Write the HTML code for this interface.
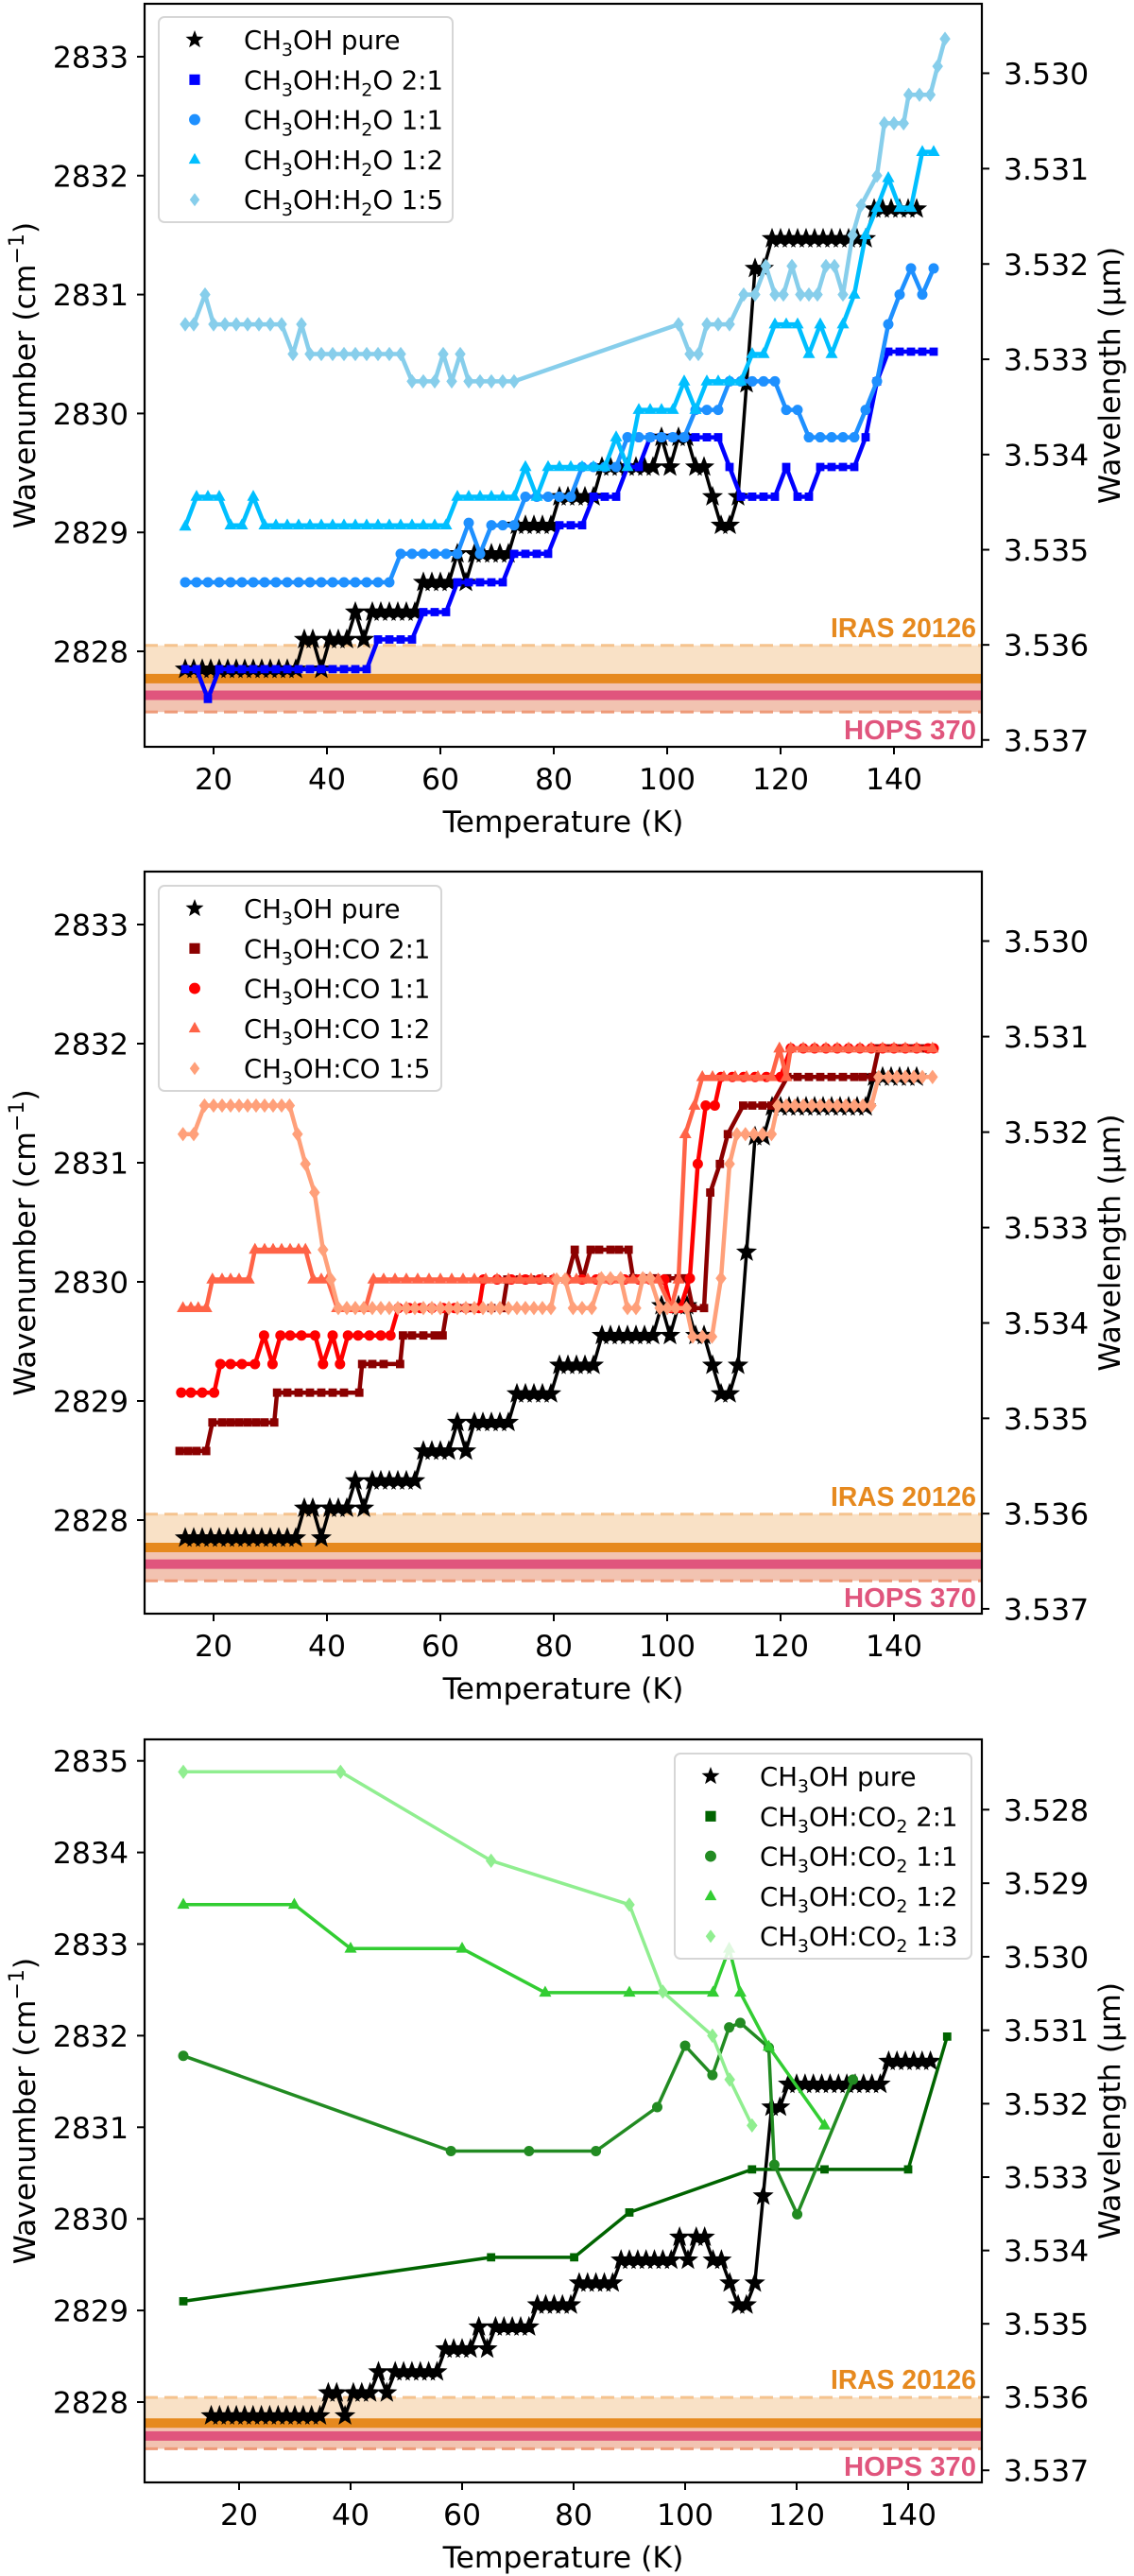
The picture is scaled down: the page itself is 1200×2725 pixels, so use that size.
<!DOCTYPE html>
<html><head><meta charset="utf-8">
<style>
html,body{margin:0;padding:0;background:#fff;}
svg{display:block;font-family:"DejaVu Sans","Liberation Sans",sans-serif;}
</style></head>
<body>
<svg id="fig" width="1200" height="2725" viewBox="0 0 1200 2725" xmlns="http://www.w3.org/2000/svg"></svg>
<script>
// ---------- DATA ----------
const pureT = [15,16.5,18,19.5,21,22.5,24,25.5,27,28.5,30,31.5,33,34.5,36,37.5,39,40.5,42,43.5,45,46.5,48,49.5,51,52.5,54,55.5,57,58.5,60,61.5,63,64.5,66,67.5,69,70.5,72,73.5,75,76.5,78,79.5,81,82.5,84,85.5,87,88.5,90,91.5,93,94.5,96,97.5,99,100.5,102,103.5,105,106.5,108,109.5,111,112.5,114,115.5,117,118.5,120,121.5,123,124.5,126,127.5,129,130.5,132,133.5,135,136.5,138,139.5,141,142.5,144];
const pureW = [2827.85,2827.85,2827.85,2827.85,2827.85,2827.85,2827.85,2827.85,2827.85,2827.85,2827.85,2827.85,2827.85,2827.85,2828.1,2828.1,2827.85,2828.1,2828.1,2828.1,2828.33,2828.1,2828.33,2828.33,2828.33,2828.33,2828.33,2828.33,2828.58,2828.58,2828.58,2828.58,2828.82,2828.58,2828.82,2828.82,2828.82,2828.82,2828.82,2829.06,2829.06,2829.06,2829.06,2829.06,2829.3,2829.3,2829.3,2829.3,2829.3,2829.55,2829.55,2829.55,2829.55,2829.55,2829.55,2829.55,2829.8,2829.55,2829.8,2829.8,2829.55,2829.55,2829.3,2829.06,2829.06,2829.3,2830.25,2831.22,2831.22,2831.47,2831.47,2831.47,2831.47,2831.47,2831.47,2831.47,2831.47,2831.47,2831.47,2831.47,2831.47,2831.72,2831.72,2831.72,2831.72,2831.72,2831.72];

const oddT = [15,17,19,21,23,25,27,29,31,33,35,37,39,41,43,45,47,49,51,53,55,57,59,61,63,65,67,69,71,73,75,77,79,81,83,85,87,89,91,93,95,97,99,101,103,105,107,109,111,113,115,117,119,121,123,125,127,129,131,133,135,137,139,141,143,145,147];
const h2o21W = [2827.85,2827.85,2827.6,2827.85,2827.85,2827.85,2827.85,2827.85,2827.85,2827.85,2827.85,2827.85,2827.85,2827.85,2827.85,2827.85,2827.85,2828.1,2828.1,2828.1,2828.1,2828.33,2828.33,2828.33,2828.58,2828.58,2828.58,2828.58,2828.58,2828.82,2828.82,2828.82,2828.82,2829.06,2829.06,2829.06,2829.3,2829.3,2829.3,2829.55,2829.55,2829.8,2829.8,2829.8,2829.8,2829.8,2829.8,2829.8,2829.55,2829.3,2829.3,2829.3,2829.3,2829.55,2829.3,2829.3,2829.55,2829.55,2829.55,2829.55,2829.8,2830.27,2830.52,2830.52,2830.52,2830.52,2830.52];
const h2o11W = [2828.58,2828.58,2828.58,2828.58,2828.58,2828.58,2828.58,2828.58,2828.58,2828.58,2828.58,2828.58,2828.58,2828.58,2828.58,2828.58,2828.58,2828.58,2828.58,2828.82,2828.82,2828.82,2828.82,2828.82,2828.82,2829.08,2828.82,2829.06,2829.06,2829.06,2829.3,2829.3,2829.3,2829.3,2829.3,2829.55,2829.55,2829.55,2829.55,2829.8,2829.8,2829.8,2829.8,2829.8,2829.8,2830.03,2830.03,2830.03,2830.27,2830.27,2830.27,2830.27,2830.27,2830.03,2830.03,2829.8,2829.8,2829.8,2829.8,2829.8,2830.03,2830.27,2830.75,2831.0,2831.22,2831.0,2831.22];
const h2o12W = [2829.05,2829.3,2829.3,2829.3,2829.06,2829.06,2829.3,2829.06,2829.06,2829.06,2829.06,2829.06,2829.06,2829.06,2829.06,2829.06,2829.06,2829.06,2829.06,2829.06,2829.06,2829.06,2829.06,2829.06,2829.3,2829.3,2829.3,2829.3,2829.3,2829.3,2829.55,2829.3,2829.55,2829.55,2829.55,2829.55,2829.55,2829.55,2829.8,2829.55,2830.03,2830.03,2830.03,2830.03,2830.27,2830.03,2830.27,2830.27,2830.27,2830.27,2830.5,2830.5,2830.75,2830.75,2830.75,2830.5,2830.75,2830.5,2830.75,2831.0,2831.5,2831.73,2831.98,2831.73,2831.73,2832.2,2832.2];
const h2o15T = [15,16.5,18.5,20,22,24,26,28,30,32,34,35.5,37,39,41,43,45,47,49,51,53,55,57,59,60.5,62,63.5,65,67,69,71,73,102,104,105.5,107,109,111,113.5,115.5,117.4,119,120.5,122,123.5,125,126.5,128,129.5,131,132.7,134.2,137,138.3,140,141.7,142.6,144.5,146.4,147.7,149];
const h2o15W = [2830.75,2830.75,2831.0,2830.75,2830.75,2830.75,2830.75,2830.75,2830.75,2830.75,2830.5,2830.75,2830.5,2830.5,2830.5,2830.5,2830.5,2830.5,2830.5,2830.5,2830.5,2830.27,2830.27,2830.27,2830.5,2830.27,2830.5,2830.27,2830.27,2830.27,2830.27,2830.27,2830.75,2830.5,2830.5,2830.75,2830.75,2830.75,2831.0,2831.0,2831.24,2831.0,2831.0,2831.24,2831.0,2831.0,2831.0,2831.24,2831.24,2831.0,2831.5,2831.75,2832.0,2832.44,2832.44,2832.44,2832.68,2832.68,2832.68,2832.92,2833.15];

const co21T = [14,15.5,17,18.7,19.8,21.5,23,24.5,26,27.5,29,30.7,31.2,33,35,37,39,41,43,45.7,46.2,48,50,52.9,53.4,55,57,59,60.4,61.2,63,65,67,69,71,71.8,74,76,78,80,82.3,83.7,85.1,86.5,88,90,91.5,93.2,94,96,98,100,102,103.4,104.5,106.5,107.6,109.3,110.7,113.4,115,116.8,118.4,121.2,123,125,127,129,131,133,134.5,136.2,137.3,139,141,143,145,146.8];
const co21W = [2828.58,2828.58,2828.58,2828.58,2828.82,2828.82,2828.82,2828.82,2828.82,2828.82,2828.82,2828.82,2829.07,2829.07,2829.07,2829.07,2829.07,2829.07,2829.07,2829.07,2829.31,2829.31,2829.31,2829.31,2829.55,2829.55,2829.55,2829.55,2829.55,2829.78,2829.78,2829.78,2829.78,2829.78,2829.78,2830.02,2830.02,2830.02,2830.02,2830.02,2830.02,2830.27,2830.02,2830.27,2830.27,2830.27,2830.27,2830.27,2830.03,2830.03,2830.03,2830.03,2830.03,2830.03,2829.78,2829.78,2830.75,2830.99,2831.24,2831.48,2831.48,2831.48,2831.48,2831.72,2831.72,2831.72,2831.72,2831.72,2831.72,2831.72,2831.72,2831.72,2831.96,2831.96,2831.96,2831.96,2831.96,2831.96];
const co11T = [14.3,16,18,20.1,21.2,23,25,27.3,28.9,30.4,31.8,33.5,35.5,37.9,39.3,41,42.3,43.7,45.5,47.5,49.5,51.2,52.6,54.5,56.5,58.5,60.5,62.5,64.5,66.8,67.6,70,72.5,75,77.5,80,82.3,85,87.5,90,92.5,95,97,99.5,100.7,102.3,104,105.4,106.8,108.4,109.5,111.5,113.5,115.5,117.5,120,121.8,124,126,128,130,132,134,136,138,140,142,144,146,147];
const co11W = [2829.07,2829.07,2829.07,2829.07,2829.31,2829.31,2829.31,2829.31,2829.55,2829.31,2829.55,2829.55,2829.55,2829.55,2829.31,2829.55,2829.31,2829.55,2829.55,2829.55,2829.55,2829.55,2829.78,2829.78,2829.78,2829.78,2829.78,2829.78,2829.78,2829.78,2830.02,2830.02,2830.02,2830.02,2830.02,2830.02,2830.02,2830.02,2830.02,2830.02,2830.02,2830.02,2830.02,2830.02,2829.78,2829.78,2830.03,2830.99,2831.48,2831.48,2831.72,2831.72,2831.72,2831.72,2831.72,2831.72,2831.96,2831.96,2831.96,2831.96,2831.96,2831.96,2831.96,2831.96,2831.96,2831.96,2831.96,2831.96,2831.96,2831.96];
const co12T = [14.6,16,17.3,18.7,19.8,21.5,23,24.5,26.2,27.3,29,30.5,32,33.5,35,36.2,37.6,39,40.1,41.8,43.5,45,46.8,48.2,50,52,54,56,58,60,62,64,66,68,70,72,74,76,78,80,82.3,84,86,88,90,92,94,96,98.4,100.7,102,103.2,104.8,106.2,108,110,112,114,116,118.4,119.8,121,121.8,124,126,128,130,132,134,136,138,140,142,144,146.8];
const co12W = [2829.78,2829.78,2829.78,2829.78,2830.02,2830.02,2830.02,2830.02,2830.02,2830.27,2830.27,2830.27,2830.27,2830.27,2830.27,2830.27,2830.02,2830.02,2830.02,2829.78,2829.78,2829.78,2829.78,2830.02,2830.02,2830.02,2830.02,2830.02,2830.02,2830.02,2830.02,2830.02,2830.02,2830.02,2830.02,2830.02,2830.02,2830.02,2830.02,2830.02,2830.02,2830.02,2830.02,2830.02,2830.02,2830.02,2830.02,2830.02,2830.02,2829.78,2830.02,2831.24,2831.48,2831.72,2831.72,2831.72,2831.72,2831.72,2831.72,2831.72,2831.96,2831.72,2831.96,2831.96,2831.96,2831.96,2831.96,2831.96,2831.96,2831.96,2831.96,2831.96,2831.96,2831.96,2831.96];
const co15T = [14.6,16.5,18.4,20,21.5,23,24.5,26,27.5,29,30.5,32,33.4,34.8,36.2,37.8,39.3,40.7,42,43.5,45,46.5,48,49.5,51,52.5,54,55.5,57,58.5,60,61.5,63,64.5,66,67.5,69,70.5,72,73.5,75,76.5,78,79.5,80.5,82,83.4,85,86.7,88.4,90,91.8,93,94.5,95.7,97,98.7,100,101.5,103.4,104.5,106.2,107.9,109.5,111,112.3,113.8,115.3,116.8,118.4,119.5,121,122.5,124,125.5,127,128.5,130,131.5,133,134.5,136,137.3,139,140.5,142,143.5,145,146.8];
const co15W = [2831.24,2831.24,2831.48,2831.48,2831.48,2831.48,2831.48,2831.48,2831.48,2831.48,2831.48,2831.48,2831.48,2831.24,2830.99,2830.75,2830.27,2830.02,2829.78,2829.78,2829.78,2829.78,2829.78,2829.78,2829.78,2829.78,2829.78,2829.78,2829.78,2829.78,2829.78,2829.78,2829.78,2829.78,2829.78,2829.78,2829.78,2829.78,2829.78,2829.78,2829.78,2829.78,2829.78,2829.78,2830.02,2830.02,2829.78,2829.78,2829.78,2830.03,2830.03,2830.03,2829.78,2829.78,2830.03,2830.03,2829.78,2829.78,2829.78,2829.78,2829.54,2829.54,2829.54,2830.03,2830.99,2831.24,2831.24,2831.24,2831.24,2831.24,2831.48,2831.48,2831.48,2831.48,2831.48,2831.48,2831.48,2831.48,2831.48,2831.48,2831.48,2831.48,2831.72,2831.72,2831.72,2831.72,2831.72,2831.72,2831.72];

const co2_21T = [10,65.2,80.1,90,112,125,140,147];
const co2_21W = [2829.10,2829.58,2829.58,2830.07,2830.54,2830.54,2830.54,2831.99];
const co2_11T = [10,58,72,84,95,100,104.9,107.9,109.9,115,116,120.1,130.1];
const co2_11W = [2831.78,2830.74,2830.74,2830.74,2831.22,2831.89,2831.57,2832.09,2832.14,2831.87,2830.59,2830.05,2831.52];
const co2_12T = [10,29.9,40,60,74.9,90,105,107.9,109.9,115,125];
const co2_12W = [2833.43,2833.43,2832.95,2832.95,2832.47,2832.47,2832.47,2832.95,2832.47,2831.88,2831.02];
const co2_13T = [10,38.2,65.2,90,96,104.9,108,112];
const co2_13W = [2834.88,2834.88,2833.91,2833.43,2832.48,2832.0,2831.52,2831.02];

const xTicks = [20,40,60,80,100,120,140];
const yTicks12 = [2828,2829,2830,2831,2832,2833];
const yTicks3 = [2828,2829,2830,2831,2832,2833,2834,2835];
const lamTicks12 = [3.530,3.531,3.532,3.533,3.534,3.535,3.536,3.537];
const lamTicks3 = [3.528,3.529,3.530,3.531,3.532,3.533,3.534,3.535,3.536,3.537];
const irasBand = [2827.49, 2827.77, 2828.05];
const hopsBand = [2827.49, 2827.63, 2827.77];

// ---------- DRAW ----------
const NS = "http://www.w3.org/2000/svg";
const fig = document.getElementById('fig');
function mk(tag, attrs, parent){
  const e = document.createElementNS(NS, tag);
  for (const k in attrs) e.setAttribute(k, attrs[k]);
  (parent||fig).appendChild(e);
  return e;
}
function markerPath(type, cx, cy, s){
  if (type==='star'){
    let p='';
    for(let i=0;i<10;i++){
      const r = i%2===0 ? s : s*0.42;
      const a = -Math.PI/2 + i*Math.PI/5;
      p += (i?'L':'M') + (cx+r*Math.cos(a)).toFixed(1)+','+(cy+r*Math.sin(a)).toFixed(1);
    }
    return p+'Z';
  }
  if (type==='square') return `M${cx-s*0.8},${cy-s*0.8}h${s*1.6}v${s*1.6}h${-s*1.6}Z`;
  if (type==='triangle') return `M${cx},${cy-s}L${cx+s*0.9},${cy+s*0.6}L${cx-s*0.9},${cy+s*0.6}Z`;
  if (type==='diamond') return `M${cx},${cy-s}L${cx+s*0.75},${cy}L${cx},${cy+s}L${cx-s*0.75},${cy}Z`;
  return `M${cx-s*0.85},${cy}a${s*0.85},${s*0.85} 0 1,0 ${s*1.7},0a${s*0.85},${s*0.85} 0 1,0 ${-s*1.7},0Z`;
}
function legendLabel(g, x, y, parts){
  const t = mk('text',{x:x,y:y,'font-size':27.5,fill:'#000'},g);
  
  
  parts.forEach(p=>{
    const ts = mk('tspan',{},t);
    if (p.sub){ ts.setAttribute('font-size','19'); ts.setAttribute('dy','7'); }
    else if (p.after){ ts.setAttribute('dy','-7'); }
    ts.textContent = p.s;
  });
}

function panel(cfg){
  const g = mk('g',{});
  
  
  const L=153, R=1039, T=cfg.top, B=cfg.bottom;
  const X = t => cfg.x0 + (t-20)*cfg.kx;
  const Y = w => cfg.y0 - (w-2828)*cfg.ky;
  const cid = 'clip-'+cfg.name;
  const defs = mk('defs',{},g);
  const cp = mk('clipPath',{id:cid},defs);
  mk('rect',{x:L,y:T,width:R-L,height:B-T},cp);
  const plot = mk('g',{'clip-path':`url(#${cid})`},g);
  
  

  const iFill = mk('rect',{x:L,y:Y(irasBand[2]),width:R-L,height:Y(irasBand[0])-Y(irasBand[2]),fill:'#f9e1c6'},plot);
  
  
  const hFill = mk('rect',{x:L,y:Y(hopsBand[2]),width:R-L,height:Y(hopsBand[0])-Y(hopsBand[2]),fill:'#f2c3b1'},plot);
  
  
  const d1 = mk('line',{x1:L,x2:R,y1:Y(irasBand[2]),y2:Y(irasBand[2]),stroke:'#f5c38e','stroke-width':3,'stroke-dasharray':'14,7'},plot);
  
  
  const d2 = mk('line',{x1:L,x2:R,y1:Y(hopsBand[0]),y2:Y(hopsBand[0]),stroke:'#ee9a78','stroke-width':3,'stroke-dasharray':'14,7'},plot);
  
  
  const oL = mk('line',{x1:L,x2:R,y1:Y(irasBand[1]),y2:Y(irasBand[1]),stroke:'#e6891e','stroke-width':10},plot);
  
  
  const pL = mk('line',{x1:L,x2:R,y1:Y(hopsBand[1]),y2:Y(hopsBand[1]),stroke:'#e0557d','stroke-width':10},plot);
  
  

  cfg.series.forEach(s=>{
    const sg = mk('g',{},plot);
    
    
    const d = s.T.map((t,i)=>(i?'L':'M')+X(t).toFixed(1)+','+Y(s.W[i]).toFixed(1)).join('');
    const ln = mk('path',{d:d,fill:'none',stroke:s.color,'stroke-width':s.lw,'stroke-linejoin':'round'},sg);
    
    
    let md='';
    s.T.forEach((t,i)=>{ md += markerPath(s.marker, X(t), Y(s.W[i]), s.ms); });
    const mp = mk('path',{d:md,fill:s.color,stroke:s.color,'stroke-width':0.8},sg);
    
    
  });

  const il = mk('text',{x:1033,y:cfg.irasY,'text-anchor':'end','font-family':'Liberation Sans, sans-serif','font-weight':'600','font-size':29,fill:'#e6891e',textLength:154,lengthAdjust:'spacingAndGlyphs'},g);
  
  
  il.textContent='IRAS 20126';
  const hl = mk('text',{x:1033,y:cfg.hopsY,'text-anchor':'end','font-family':'Liberation Sans, sans-serif','font-weight':'600','font-size':29,fill:'#e0557d',textLength:140,lengthAdjust:'spacingAndGlyphs'},g);
  
  
  hl.textContent='HOPS 370';

  const fr = mk('rect',{x:L,y:T,width:R-L,height:B-T,fill:'none',stroke:'#000','stroke-width':2.2},g);
  
  

  xTicks.forEach(v=>{
    const tk = mk('line',{x1:X(v),x2:X(v),y1:B,y2:B+8,stroke:'#000','stroke-width':2},g);
    
    
    const tl = mk('text',{x:X(v),y:B+45,'text-anchor':'middle','font-size':31.5},g);
    
    
    tl.textContent=v;
  });
  cfg.yTicks.forEach(v=>{
    const tk = mk('line',{x1:L-8,x2:L,y1:Y(v),y2:Y(v),stroke:'#000','stroke-width':2},g);
    
    
    const tl = mk('text',{x:L-17,y:Y(v)+11.5,'text-anchor':'end','font-size':31.5},g);
    
    
    tl.textContent=v;
  });
  cfg.lamTicks.forEach(v=>{
    const yy = Y(1e4/v);
    const tk = mk('line',{x1:R,x2:R+8,y1:yy,y2:yy,stroke:'#000','stroke-width':2},g);
    
    
    const tl = mk('text',{x:R+23,y:yy+11.5,'text-anchor':'start','font-size':31.5},g);
    
    
    tl.textContent=v.toFixed(3);
  });
  const mid = (T+B)/2;
  const xl = mk('text',{x:(L+R)/2,y:B+90,'text-anchor':'middle','font-size':31.5},g);
  
  
  xl.textContent='Temperature (K)';
  const yl = mk('text',{x:0,y:0,'text-anchor':'middle','font-size':31.5,transform:`translate(37,${mid}) rotate(-90)`},g);
  
  
  yl.appendChild(document.createTextNode('Wavenumber (cm'));
  const sup = mk('tspan',{'font-size':22,dy:-12},yl);
  sup.textContent='\u22121';
  const cl = mk('tspan',{dy:12},yl);
  cl.textContent=')';
  const y2 = mk('text',{x:0,y:0,'text-anchor':'middle','font-size':31.5,transform:`translate(1185,${mid}) rotate(-90)`},g);
  
  
  y2.textContent='Wavelength (\u00b5m)';

  const lg = mk('g',{},g);
  
  
  const lb = mk('rect',{x:cfg.leg.x,y:cfg.leg.y,width:cfg.leg.w,height:cfg.leg.h,rx:6,fill:'#fff','fill-opacity':0.85,stroke:'#d6d6d6','stroke-width':2},lg);
  
  
  cfg.series.forEach((s,i)=>{
    const cy = cfg.leg.y + 24 + i*42.3;
    const em = mk('g',{},lg);
    
    
    const mm = mk('path',{d:markerPath(s.marker, cfg.leg.x+38, cy, s.marker==='star'?10:7),fill:s.color},em);
    
    
    legendLabel(em, cfg.leg.x+90, cy+10, s.label);
  });
}

const pureLabel = [{s:'CH'},{s:'3',sub:true},{s:'OH pure',after:true}];
function h2oLabel(r){return [{s:'CH'},{s:'3',sub:true},{s:'OH:H',after:true},{s:'2',sub:true},{s:'O '+r,after:true}];}
function coLabel(r){return [{s:'CH'},{s:'3',sub:true},{s:'OH:CO '+r,after:true}];}
function co2Label(r){return [{s:'CH'},{s:'3',sub:true},{s:'OH:CO',after:true},{s:'2',sub:true},{s:' '+r,after:true}];}

panel({name:'panel-h2o', top:4, bottom:790, x0:226, kx:6, y0:689, ky:125.8,
  yTicks:yTicks12, lamTicks:lamTicks12, irasY:674, hopsY:782,
  leg:{x:168,y:18,w:311,h:217},
  series:[
    {id:'series-pure', T:pureT, W:pureW, color:'#000', marker:'star', ms:10.5, lw:3.5, label:pureLabel},
    {id:'series-h2o-2-1', T:oddT, W:h2o21W, color:'#0000ff', marker:'square', ms:5, lw:4.5, label:h2oLabel('2:1')},
    {id:'series-h2o-1-1', T:oddT, W:h2o11W, color:'#1e90ff', marker:'circle', ms:6, lw:4.5, label:h2oLabel('1:1')},
    {id:'series-h2o-1-2', T:oddT, W:h2o12W, color:'#00bfff', marker:'triangle', ms:6.5, lw:4.5, label:h2oLabel('1:2')},
    {id:'series-h2o-1-5', T:h2o15T, W:h2o15W, color:'#87ceeb', marker:'diamond', ms:7, lw:4.5, label:h2oLabel('1:5')}
  ]});

panel({name:'panel-co', top:922, bottom:1707, x0:226, kx:6, y0:1608, ky:126,
  yTicks:yTicks12, lamTicks:lamTicks12, irasY:1593, hopsY:1700,
  leg:{x:168,y:937,w:299,h:217},
  series:[
    {id:'series-pure', T:pureT, W:pureW, color:'#000', marker:'star', ms:10.5, lw:3.5, label:pureLabel},
    {id:'series-co-2-1', T:co21T, W:co21W, color:'#8b0000', marker:'square', ms:5, lw:4.5, label:coLabel('2:1')},
    {id:'series-co-1-1', T:co11T, W:co11W, color:'#ff0000', marker:'circle', ms:6, lw:4.5, label:coLabel('1:1')},
    {id:'series-co-1-2', T:co12T, W:co12W, color:'#ff6347', marker:'triangle', ms:6.5, lw:4.5, label:coLabel('1:2')},
    {id:'series-co-1-5', T:co15T, W:co15W, color:'#ffa07a', marker:'diamond', ms:7, lw:4.5, label:coLabel('1:5')}
  ]});

panel({name:'panel-co2', top:1840, bottom:2626, x0:253, kx:5.9, y0:2541, ky:96.9,
  yTicks:yTicks3, lamTicks:lamTicks3, irasY:2527, hopsY:2619,
  leg:{x:714,y:1855,w:314,h:217},
  series:[
    {id:'series-pure', T:pureT, W:pureW, color:'#000', marker:'star', ms:10.5, lw:3.5, label:pureLabel},
    {id:'series-co2-2-1', T:co2_21T, W:co2_21W, color:'#006400', marker:'square', ms:5, lw:3.5, label:co2Label('2:1')},
    {id:'series-co2-1-1', T:co2_11T, W:co2_11W, color:'#228b22', marker:'circle', ms:6, lw:3.5, label:co2Label('1:1')},
    {id:'series-co2-1-2', T:co2_12T, W:co2_12W, color:'#32cd32', marker:'triangle', ms:6.5, lw:3.5, label:co2Label('1:2')},
    {id:'series-co2-1-3', T:co2_13T, W:co2_13W, color:'#90ee90', marker:'diamond', ms:7, lw:3.5, label:co2Label('1:3')}
  ]});
</script>
</body></html>
